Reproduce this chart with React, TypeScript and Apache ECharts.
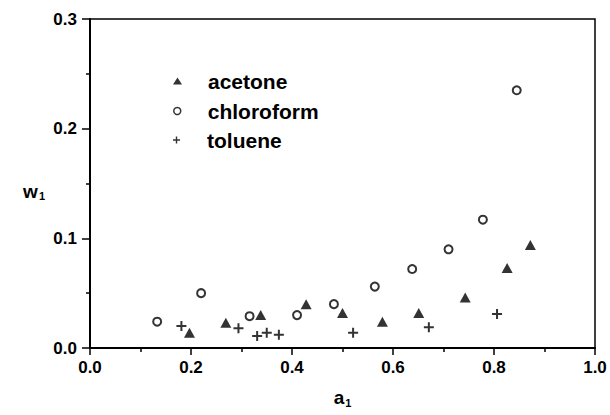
import React, { useEffect, useRef } from "react";
import * as echarts from "echarts";

// activity a1 vs. mass fraction w1 for three solvents
const acetoneA = [0.197, 0.269, 0.338, 0.428, 0.5, 0.579, 0.651, 0.743, 0.826, 0.872];
const acetoneW = [0.014, 0.023, 0.03, 0.04, 0.032, 0.024, 0.032, 0.046, 0.073, 0.094];

const chloroformA = [0.133, 0.22, 0.316, 0.41, 0.483, 0.564, 0.638, 0.71, 0.778, 0.845];
const chloroformW = [0.024, 0.05, 0.029, 0.03, 0.04, 0.056, 0.072, 0.09, 0.117, 0.235];

const tolueneA = [0.181, 0.294, 0.331, 0.35, 0.374, 0.521, 0.671, 0.806];
const tolueneW = [0.02, 0.018, 0.011, 0.014, 0.012, 0.014, 0.019, 0.031];

const FONT = "'Liberation Sans', Arial, Helvetica, sans-serif";
const PLUS = "path://M4,0H6V4H10V6H6V10H4V6H0V4H4Z";

const pairs = (xs: number[], ys: number[]) => xs.map((x, i) => [x, ys[i]]);

export default function App() {
  const ref = useRef<HTMLDivElement>(null);

  useEffect(() => {
    if (!ref.current) return;
    const chart = echarts.init(ref.current, undefined, { renderer: "svg" });

    const tickLabel = {
      color: "#000",
      fontFamily: FONT,
      fontWeight: "bold" as const,
      fontSize: 17,
    };
    const nameRich = {
      b: { fontFamily: FONT, fontWeight: "bold" as const, fontSize: 19, lineHeight: 20, verticalAlign: "top" as const, color: "#000" },
      s: { fontFamily: FONT, fontWeight: "bold" as const, fontSize: 11, lineHeight: 11, verticalAlign: "top" as const, padding: [9, 0, 0, 1], color: "#000" },
    };
    const legendText = {
      color: "#000",
      fontFamily: FONT,
      fontWeight: "bold" as const,
      fontSize: 21,
      lineHeight: 22,
      padding: [0, 0, 0, 21],
    };
    const legendBox = {
      orient: "vertical" as const,
      left: 168,
      itemWidth: 9,
      itemGap: 10,
      selectedMode: false,
      textStyle: legendText,
    };

    chart.setOption({
      animation: false,
      backgroundColor: "#fff",
      grid: {
        left: 90,
        right: 15,
        top: 19,
        bottom: 67,
        show: true,
        borderColor: "#000",
        borderWidth: 1.5,
        backgroundColor: "transparent",
      },
      legend: [
        {
          ...legendBox,
          top: 65,
          itemHeight: 7,
          data: [{ name: "acetone", icon: "triangle" }],
          itemStyle: { color: "#000", borderWidth: 0 },
        },
        {
          ...legendBox,
          top: 95,
          itemHeight: 7,
          data: [{ name: "chloroform", icon: "circle" }],
          itemStyle: { color: "#fff", borderColor: "#000", borderWidth: 1.5 },
        },
        {
          ...legendBox,
          top: 124,
          itemHeight: 7,
          data: [{ name: "toluene", icon: PLUS }],
          itemStyle: { color: "#000", borderWidth: 0 },
        },
      ],
      xAxis: {
        type: "value",
        min: 0,
        max: 1,
        interval: 0.2,
        name: "{b|a}{s|1}",
        nameLocation: "middle",
        nameGap: 40,
        nameTextStyle: { rich: nameRich },
        axisLine: { lineStyle: { color: "#000", width: 2 } },
        axisTick: { show: true, length: 7, lineStyle: { color: "#000", width: 1.5 } },
        minorTick: { show: true, splitNumber: 2, length: 4, lineStyle: { color: "#000", width: 1.5 } },
        splitLine: { show: false },
        axisLabel: { ...tickLabel, margin: 11, formatter: (v: number) => v.toFixed(1) },
      },
      yAxis: {
        type: "value",
        min: 0,
        max: 0.3,
        interval: 0.1,
        name: "{b|w}{s|1}",
        nameLocation: "middle",
        nameRotate: 0,
        nameGap: 45,
        nameTextStyle: { rich: nameRich, padding: [16, 0, 0, 0] },
        axisLine: { lineStyle: { color: "#000", width: 2 } },
        axisTick: { show: true, length: 8, lineStyle: { color: "#000", width: 1.5 } },
        minorTick: { show: true, splitNumber: 2, length: 4, lineStyle: { color: "#000", width: 1.5 } },
        splitLine: { show: false },
        axisLabel: { ...tickLabel, margin: 13, formatter: (v: number) => v.toFixed(1) },
      },
      series: [
        {
          name: "acetone",
          type: "scatter",
          symbol: "triangle",
          symbolSize: [11, 10],
          itemStyle: { color: "#000" },
          data: pairs(acetoneA, acetoneW),
        },
        {
          name: "chloroform",
          type: "scatter",
          symbol: "circle",
          symbolSize: 8,
          itemStyle: { color: "#fff", borderColor: "#000", borderWidth: 2 },
          data: pairs(chloroformA, chloroformW),
        },
        {
          name: "toluene",
          type: "scatter",
          symbol: PLUS,
          symbolSize: 10,
          itemStyle: { color: "#000" },
          data: pairs(tolueneA, tolueneW),
        },
      ],
    });

    return () => chart.dispose();
  }, []);

  return (
    <div
      ref={ref}
      style={{ width: 610, height: 415, position: "absolute", left: 0, top: 0, background: "#fff" }}
    />
  );
}
